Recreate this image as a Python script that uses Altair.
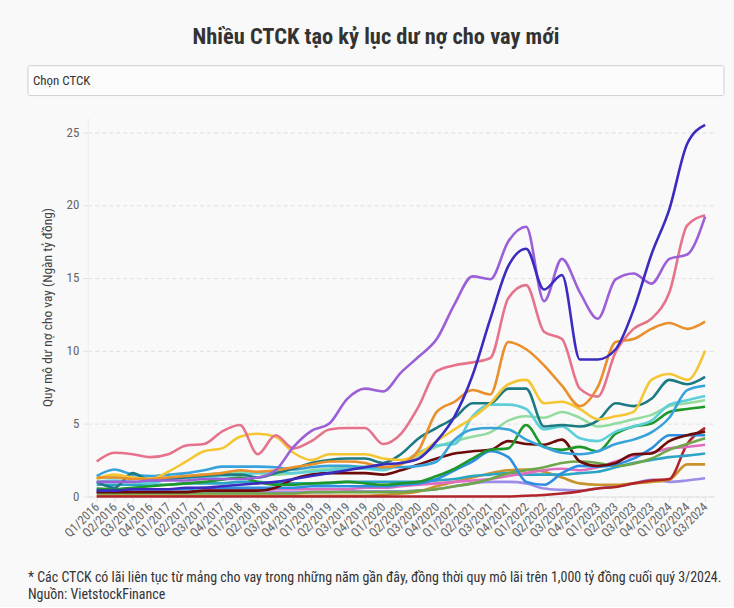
import altair as alt
import pandas as pd

FONT = "'Roboto Condensed', 'Liberation Sans Narrow', 'Arial Narrow', Roboto, sans-serif"

quarters = [
    "Q1/2016", "Q2/2016", "Q3/2016", "Q4/2016",
    "Q1/2017", "Q2/2017", "Q3/2017", "Q4/2017",
    "Q1/2018", "Q2/2018", "Q3/2018", "Q4/2018",
    "Q1/2019", "Q2/2019", "Q3/2019", "Q4/2019",
    "Q1/2020", "Q2/2020", "Q3/2020", "Q4/2020",
    "Q1/2021", "Q2/2021", "Q3/2021", "Q4/2021",
    "Q1/2022", "Q2/2022", "Q3/2022", "Q4/2022",
    "Q1/2023", "Q2/2023", "Q3/2023", "Q4/2023",
    "Q1/2024", "Q2/2024", "Q3/2024",
]

# Dư nợ cho vay (nghìn tỷ đồng)
ctck_a = [0.4, 0.4, 0.5, 0.5, 0.5, 0.6, 0.6, 0.7, 0.8, 0.9,
          1.0, 1.2, 1.4, 1.6, 1.8, 2.0, 2.2, 2.3, 2.6, 3.8,
          5.5, 8.3, 12.2, 15.8, 17.0, 14.2, 15.2, 9.4, 9.4, 10.1,
          12.8, 16.6, 19.7, 24.2, 25.5]
ctck_b = [1.0, 1.0, 1.0, 1.1, 1.1, 1.1, 1.2, 1.2, 1.2, 1.3,
          1.8, 3.4, 4.5, 5.0, 6.7, 7.4, 7.2, 8.5, 9.6, 10.8,
          13.2, 15.1, 14.9, 17.5, 18.5, 13.4, 16.3, 14.0, 12.2, 14.9,
          15.3, 14.6, 16.3, 16.6, 19.2]
ctck_c = [2.4, 3.0, 2.9, 2.7, 2.9, 3.5, 3.6, 4.45, 4.9, 2.9,
          4.2, 3.3, 3.8, 4.6, 4.7, 4.7, 3.6, 4.3, 6.2, 8.6,
          9.0, 9.2, 9.5, 13.6, 14.5, 11.3, 10.8, 7.4, 6.85, 9.9,
          11.5, 12.2, 14.0, 18.6, 19.3]
ctck_d = [1.3, 1.3, 1.2, 1.2, 1.3, 1.4, 1.5, 1.6, 1.8, 1.7,
          1.8, 2.0, 2.2, 2.4, 2.4, 2.3, 2.0, 2.2, 3.2, 5.8,
          6.5, 7.3, 7.0, 10.6, 10.1, 9.0, 7.6, 6.2, 7.5, 10.6,
          10.8, 11.5, 11.9, 11.5, 12.0]
ctck_e = [1.2, 1.5, 1.3, 1.2, 1.7, 2.4, 3.1, 3.3, 4.1, 4.3,
          4.1, 3.0, 2.5, 2.9, 2.9, 2.9, 2.6, 2.5, 2.9, 3.8,
          4.6, 5.4, 6.4, 7.7, 8.0, 6.4, 6.5, 6.0, 5.3, 5.5,
          5.8, 8.0, 8.4, 8.0, 10.0]
ctck_f = [1.0, 0.6, 1.6, 1.1, 1.2, 1.3, 1.4, 1.5, 1.5, 1.3,
          1.6, 1.9, 2.3, 2.5, 2.6, 2.6, 2.3, 2.9, 4.0, 4.7,
          5.4, 6.4, 6.4, 7.4, 7.4, 4.8, 4.9, 4.8, 5.2, 6.4,
          6.2, 6.7, 8.0, 7.7, 8.2]
ctck_g = [1.4, 1.85, 1.5, 1.4, 1.5, 1.6, 1.8, 2.05, 2.05, 2.05,
          2.0, 1.85, 2.0, 2.1, 2.1, 2.0, 2.0, 2.0, 2.1, 2.4,
          3.9, 4.6, 4.7, 4.6, 3.9, 3.4, 3.0, 2.9, 3.1, 3.6,
          3.9, 4.4, 5.4, 7.3, 7.6]
ctck_h = [1.0, 1.1, 1.0, 0.9, 1.2, 1.3, 1.3, 1.4, 1.5, 1.6,
          1.7, 1.6, 1.7, 1.8, 1.9, 1.9, 1.8, 2.3, 3.0, 3.5,
          3.6, 5.5, 6.3, 6.3, 6.0, 4.6, 4.8, 4.0, 3.8, 4.45,
          4.8, 5.2, 6.3, 6.6, 6.9]
ctck_i = [1.25, 1.3, 1.3, 1.2, 1.3, 1.4, 1.5, 1.6, 1.7, 1.6,
          1.5, 1.6, 1.8, 1.9, 2.0, 2.05, 1.9, 2.3, 2.8, 3.4,
          3.8, 4.1, 4.4, 5.2, 5.5, 5.4, 5.8, 5.4, 4.8, 5.0,
          5.3, 5.6, 6.2, 6.4, 6.6]
ctck_j = [0.55, 0.5, 0.6, 0.7, 0.8, 0.9, 1.0, 1.15, 1.3, 1.0,
          0.8, 0.8, 0.9, 0.95, 1.0, 0.9, 0.8, 0.9, 1.0, 1.4,
          1.9, 2.6, 3.2, 3.3, 4.9, 3.4, 3.2, 3.4, 3.1, 4.3,
          4.8, 5.0, 5.8, 6.0, 6.15]
ctck_k = [0.3, 0.3, 0.3, 0.3, 0.3, 0.3, 0.4, 0.4, 0.4, 0.4,
          0.6, 1.2, 1.5, 1.6, 1.6, 1.6, 1.5, 1.8, 2.2, 2.6,
          2.95, 3.1, 3.2, 3.8, 3.6, 3.55, 3.9, 2.4, 2.1, 2.3,
          2.9, 2.95, 3.8, 4.2, 4.45]
ctck_l = [0.0, 0.0, 0.0, 0.0, 0.0, 0.0, 0.0, 0.0, 0.0, 0.0,
          0.0, 0.0, 0.0, 0.0, 0.0, 0.0, 0.0, 0.0, 0.0, 0.0,
          0.0, 0.0, 0.0, 0.0, 0.05, 0.1, 0.2, 0.35, 0.55, 0.65,
          0.9, 1.1, 1.2, 3.6, 4.7]
ctck_m = [0.2, 0.2, 0.2, 0.2, 0.2, 0.2, 0.2, 0.2, 0.2, 0.2,
          0.2, 0.2, 0.3, 0.3, 0.3, 0.3, 0.3, 0.3, 0.4, 0.5,
          0.7, 0.9, 1.2, 1.6, 1.8, 2.0, 2.3, 2.4, 2.3, 2.1,
          2.25, 2.6, 3.2, 3.6, 4.0]
ctck_n = [0.5, 0.5, 0.5, 0.5, 0.5, 0.5, 0.6, 0.6, 0.6, 0.6,
          0.6, 0.6, 0.7, 0.7, 0.7, 0.7, 0.7, 0.8, 0.9, 1.2,
          1.8, 2.4, 3.1, 2.7, 1.0, 0.8, 1.6, 2.1, 2.05, 2.2,
          2.6, 3.3, 4.2, 4.2, 4.2]
ctck_o = [0.3, 0.3, 0.3, 0.3, 0.3, 0.3, 0.4, 0.4, 0.4, 0.4,
          0.5, 0.5, 0.5, 0.5, 0.5, 0.6, 0.6, 0.7, 0.8, 0.9,
          1.0, 1.1, 1.2, 1.4, 1.6, 1.8, 1.9, 1.8, 2.0, 2.4,
          2.8, 3.0, 3.3, 3.4, 3.55]
ctck_p = [0.8, 0.8, 0.8, 0.8, 0.8, 0.9, 0.9, 0.9, 1.0, 1.0,
          0.9, 0.9, 0.9, 0.9, 1.0, 1.0, 1.0, 1.0, 1.0, 1.1,
          1.2, 1.4, 1.5, 1.6, 1.5, 1.5, 1.5, 1.6, 1.7, 2.0,
          2.3, 2.5, 2.7, 2.8, 2.95]
ctck_q = [0.05, 0.05, 0.05, 0.05, 0.05, 0.05, 0.05, 0.05, 0.05, 0.05,
          0.05, 0.05, 0.05, 0.05, 0.05, 0.05, 0.1, 0.2, 0.35, 0.7,
          1.0, 1.3, 1.6, 1.8, 1.85, 1.7, 1.3, 0.9, 0.8, 0.8,
          0.9, 1.0, 1.15, 2.2, 2.2]
ctck_r = [0.3, 0.3, 0.3, 0.3, 0.3, 0.3, 0.3, 0.3, 0.3, 0.3,
          0.3, 0.3, 0.3, 0.3, 0.35, 0.35, 0.35, 0.35, 0.4, 0.5,
          0.7, 0.9, 1.0, 1.0, 0.9, 0.55, 0.45, 0.4, 0.55, 0.7,
          0.9, 1.15, 1.0, 1.1, 1.25]

names = ["CTCK R", "CTCK Q", "CTCK L", "CTCK P", "CTCK O", "CTCK M", "CTCK N",
         "CTCK K", "CTCK J", "CTCK I", "CTCK H", "CTCK G", "CTCK F", "CTCK E",
         "CTCK D", "CTCK C", "CTCK B", "CTCK A"]
values = [ctck_r, ctck_q, ctck_l, ctck_p, ctck_o, ctck_m, ctck_n,
          ctck_k, ctck_j, ctck_i, ctck_h, ctck_g, ctck_f, ctck_e,
          ctck_d, ctck_c, ctck_b, ctck_a]
colors = ["#9d8ce8", "#c8922c", "#b1252a", "#2ba4c6", "#df6cbf", "#6fa64a", "#2e8ee0",
          "#6d0a0a", "#1f982b", "#92dca0", "#5ccfd9", "#38a3da", "#1c7b82", "#f6c532",
          "#e98f2b", "#e6738c", "#9b5fd8", "#3b2bbf"]

rows = []
for k, (n, vals) in enumerate(zip(names, values)):
    assert len(vals) == len(quarters)
    for q, v in zip(quarters, vals):
        rows.append({"ctck": n, "quy": q, "du_no": v, "ord": k})
df = pd.DataFrame(rows)

title_text = "Nhiều CTCK tạo kỷ lục dư nợ cho vay mới"
select_text = ["Chọn CTCK"]
footnote = [
    "* Các CTCK có lãi liên tục từ mảng cho vay trong những năm gần đây, đồng thời quy mô lãi trên 1,000 tỷ đồng cuối quý 3/2024.",
    "Nguồn: VietstockFinance",
]

W, H = 628, 380

lines = alt.Chart(df).mark_line(interpolate="monotone", strokeWidth=2.6).encode(
    x=alt.X("quy:N", sort=quarters,
            scale=alt.Scale(type="point", padding=0.5),
            axis=alt.Axis(title=None, labelAngle=-45, labelAlign="right", labelBaseline="middle",
                          labelFontSize=12.5, labelColor="#666", labelFont=FONT, labelPadding=3,
                          ticks=True, tickSize=5, tickColor="#e2e2e2",
                          domain=True, domainColor="#e2e2e2", grid=False, labelOverlap=False)),
    y=alt.Y("du_no:Q", scale=alt.Scale(domain=[0, 26], nice=False),
            axis=alt.Axis(title="Quy mô dư nợ cho vay (Ngàn tỷ đồng)", values=[0, 5, 10, 15, 20, 25],
                          titleFontSize=13.5, titleFontWeight="normal", titleColor="#444", titleFont=FONT,
                          titlePadding=12, labelFontSize=13, labelColor="#666", labelFont=FONT,
                          labelPadding=4, tickSize=5, tickColor="#e2e2e2",
                          domain=True, domainColor="#ececec",
                          grid=True, gridDash=[4, 3], gridColor="#e0e0e0")),
    color=alt.Color("ctck:N", scale=alt.Scale(domain=names, range=colors), legend=None),
    order=alt.Order("ord:Q"),
)

box = alt.Chart(pd.DataFrame({"t": select_text})).mark_rect(
    fill="#fcfcfc", stroke="#cfcfcf", strokeWidth=1, cornerRadius=2
).encode(x=alt.value(-60), x2=alt.value(638), y=alt.value(-52), y2=alt.value(-22))

box_text = alt.Chart(pd.DataFrame({"t": select_text})).mark_text(
    align="left", baseline="middle", fontSize=13, font=FONT, color="#333"
).encode(x=alt.value(-55), y=alt.value(-37), text="t:N")

foot_df = pd.DataFrame({"t": footnote, "row": [0, 1]})
foot1 = alt.Chart(foot_df.iloc[[0]]).mark_text(
    align="left", baseline="alphabetic", fontSize=14, font=FONT, color="#333"
).encode(x=alt.value(-60), y=alt.value(466), text="t:N")
foot2 = alt.Chart(foot_df.iloc[[1]]).mark_text(
    align="left", baseline="alphabetic", fontSize=14, font=FONT, color="#333"
).encode(x=alt.value(-60), y=alt.value(483), text="t:N")

chart = alt.layer(lines, box, box_text, foot1, foot2).properties(
    width=W, height=H,
    title=alt.TitleParams(title_text, fontSize=22.5, fontWeight="bold", font=FONT, color="#333",
                          anchor="middle", frame="bounds", offset=17),
    padding={"left": 27, "top": 25, "right": 9, "bottom": 4},
    background="#f9f9f9",
).configure_view(stroke=None)

chart.save("out.html", embed_options={"renderer": "svg", "actions": False})
